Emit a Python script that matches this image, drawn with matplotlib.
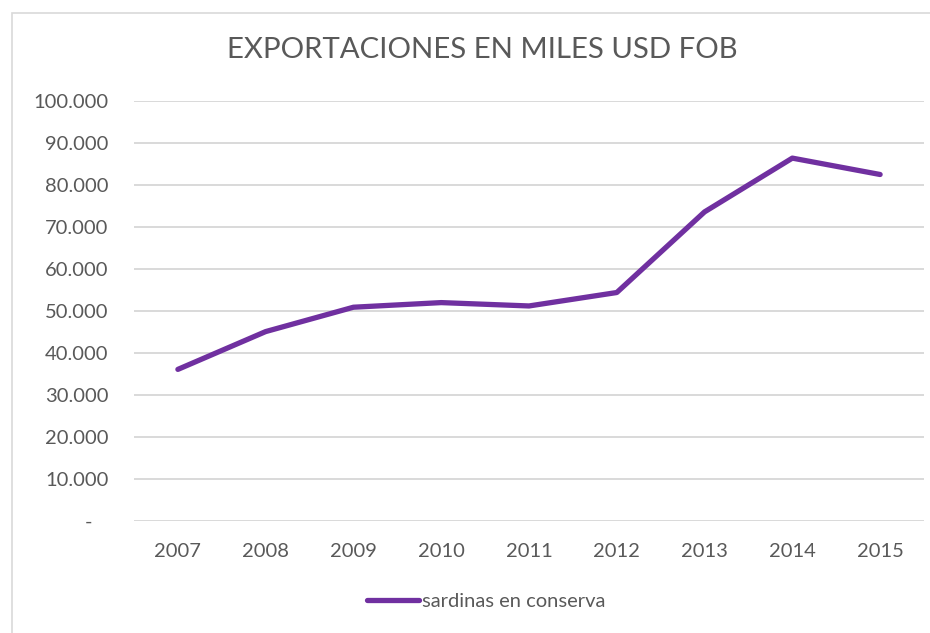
import matplotlib
matplotlib.use("Agg")
import matplotlib.pyplot as plt
from matplotlib.ticker import FuncFormatter, MultipleLocator
from matplotlib.patches import Rectangle

years = ["2007", "2008", "2009", "2010", "2011", "2012", "2013", "2014", "2015"]
sardinas = [36100, 45100, 50900, 52000, 51200, 54400, 73600, 86400, 82500]
series_name = "sardinas en conserva"
title = "EXPORTACIONES EN MILES USD FOB"

plt.rcParams['font.family'] = ['Lato', 'DejaVu Sans']
TXT = "#595959"

fig = plt.figure(figsize=(9.3, 6.33), dpi=100)
ax = fig.add_axes([134/930, 1-521/633, 790/930, 420/633])

x = list(range(len(years)))
ax.plot(x, sardinas, color="#7030a0", linewidth=3.8, solid_capstyle="round",
        solid_joinstyle="round", label=series_name, zorder=3)

ax.set_xlim(-0.5, len(years) - 0.5)
ax.set_ylim(0, 100000)
ax.yaxis.set_major_locator(MultipleLocator(10000))

def fmt(v, pos):
    if abs(v) < 1e-6:
        return "-   "
    return f"{int(round(v)):,}".replace(",", ".")

ax.yaxis.set_major_formatter(FuncFormatter(fmt))
ax.set_xticks(x)
ax.set_xticklabels(years)
ax.grid(axis="y", color="#d9d9d9", linewidth=1.4)
ax.set_axisbelow(True)
for s in ax.spines.values():
    s.set_visible(False)
ax.tick_params(axis="both", length=0, colors=TXT, labelsize=14.5)
ax.tick_params(axis="y", pad=18.5)
ax.tick_params(axis="x", pad=15.5)

fig.text(482/930, 1-50/633, title, ha="center", va="center", fontsize=21.2, color=TXT)

leg = ax.legend(loc="center", bbox_to_anchor=(486/930, 1-601/633), bbox_transform=fig.transFigure,
                frameon=False, fontsize=14.5, handlelength=2.6, handletextpad=0.1)
for t in leg.get_texts():
    t.set_color(TXT)

fig.patches.append(Rectangle((12, -1000), 2000, 633 - 13 + 1000, transform=None, fill=False,
                             edgecolor="#d9d9d9", linewidth=1.2))

fig.savefig("out.png", dpi=100)
